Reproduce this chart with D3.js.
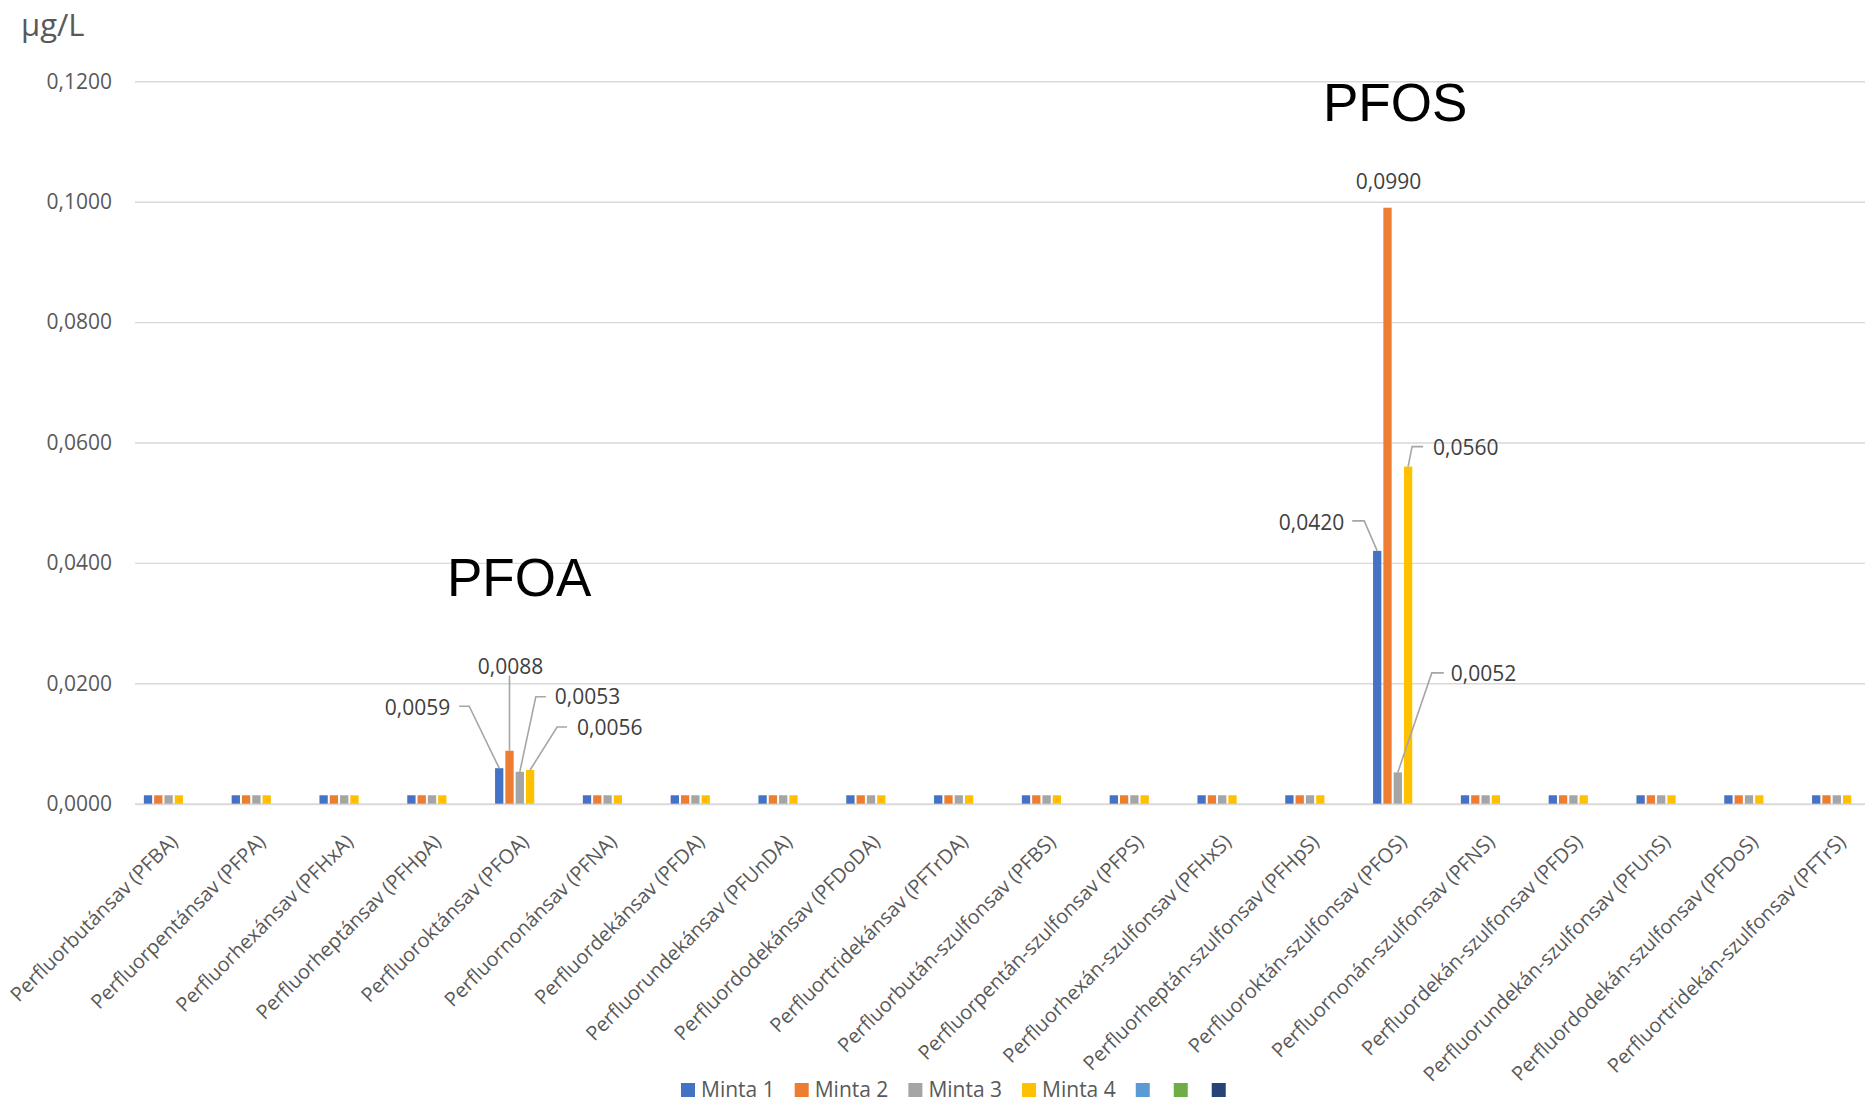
<!DOCTYPE html>
<html>
<head>
<meta charset="utf-8">
<script src="https://cdn.jsdelivr.net/npm/d3@7"></script>
<style>
  body { margin: 0; background: #fff; }
  svg { display: block; font-family: 'Open Sans', sans-serif; }
</style>
</head>
<body>
<svg id="chart" width="1865" height="1110"></svg>
<script>
// ---------- DATA ----------
const categories = [
  "Perfluorbutánsav (PFBA)",
  "Perfluorpentánsav (PFPA)",
  "Perfluorhexánsav (PFHxA)",
  "Perfluorheptánsav (PFHpA)",
  "Perfluoroktánsav (PFOA)",
  "Perfluornonánsav (PFNA)",
  "Perfluordekánsav (PFDA)",
  "Perfluorundekánsav (PFUnDA)",
  "Perfluordodekánsav (PFDoDA)",
  "Perfluortridekánsav (PFTrDA)",
  "Perfluorbután-szulfonsav (PFBS)",
  "Perfluorpentán-szulfonsav (PFPS)",
  "Perfluorhexán-szulfonsav (PFHxS)",
  "Perfluorheptán-szulfonsav (PFHpS)",
  "Perfluoroktán-szulfonsav (PFOS)",
  "Perfluornonán-szulfonsav (PFNS)",
  "Perfluordekán-szulfonsav (PFDS)",
  "Perfluorundekán-szulfonsav (PFUnS)",
  "Perfluordodekán-szulfonsav (PFDoS)",
  "Perfluortridekán-szulfonsav (PFTrS)"
];
const seriesNames = ["Minta 1", "Minta 2", "Minta 3", "Minta 4", "", "", ""];
const minta1 = [0.0014,0.0014,0.0014,0.0014,0.0059,0.0014,0.0014,0.0014,0.0014,0.0014,0.0014,0.0014,0.0014,0.0014,0.0420,0.0014,0.0014,0.0014,0.0014,0.0014];
const minta2 = [0.0014,0.0014,0.0014,0.0014,0.0088,0.0014,0.0014,0.0014,0.0014,0.0014,0.0014,0.0014,0.0014,0.0014,0.0990,0.0014,0.0014,0.0014,0.0014,0.0014];
const minta3 = [0.0014,0.0014,0.0014,0.0014,0.0053,0.0014,0.0014,0.0014,0.0014,0.0014,0.0014,0.0014,0.0014,0.0014,0.0052,0.0014,0.0014,0.0014,0.0014,0.0014];
const minta4 = [0.0014,0.0014,0.0014,0.0014,0.0056,0.0014,0.0014,0.0014,0.0014,0.0014,0.0014,0.0014,0.0014,0.0014,0.0560,0.0014,0.0014,0.0014,0.0014,0.0014];
const seriesValues = [minta1, minta2, minta3, minta4, [], [], []];
const yTicks = [0, 0.02, 0.04, 0.06, 0.08, 0.10, 0.12];
const labelledCategories = ["Perfluoroktánsav (PFOA)", "Perfluoroktán-szulfonsav (PFOS)"];
const annotations = ["PFOA", "PFOS"];

// ---------- STYLE / LAYOUT ----------
const colors = ["#4472C4", "#ED7D31", "#A5A5A5", "#FFC000", "#5B9BD5", "#70AD47", "#264478"];
// data label placement relative to bar top
const labelLayout = {
  "Perfluoroktánsav (PFOA)": [
    {dx: -49, dy: -61, anchor: "end", leader: [[-30, -62], [-40, -62]]},
    {dx: 1, dy: -84, anchor: "middle", leader: [[0, -75]]},
    {dx: 35, dy: -75, anchor: "start", leader: [[16, -75], [26, -75]]},
    {dx: 47, dy: -42, anchor: "start", leader: [[27, -43], [37, -43]]}
  ],
  "Perfluoroktán-szulfonsav (PFOS)": [
    {dx: -33, dy: -28, anchor: "end", leader: [[-13, -30], [-25, -30]]},
    {dx: 1, dy: -26, anchor: "middle", leader: null},
    {dx: 53, dy: -99, anchor: "start", leader: [[34, -99.5], [46, -99.5]]},
    {dx: 25, dy: -19, anchor: "start", leader: [[4, -20], [15, -20]]}
  ]
};
const annotationPos = [[447, 596], [1323, 121]];

const svg = d3.select("#chart");
const fmt = v => d3.format(".4f")(v).replace(".", ",");

const x0 = d3.scaleBand().domain(categories).range([135, 1891])
  .paddingInner(0.179).paddingOuter(0.0895);
const x1 = d3.scaleBand().domain(d3.range(seriesNames.length)).range([0, x0.bandwidth()]);
const y = d3.scaleLinear().domain([0, 0.12]).range([803.7, 81.3]);

// gridlines + y axis
const yAxis = d3.axisLeft(y).tickValues(yTicks).tickFormat(fmt).tickSize(-(1891 - 135)).tickPadding(23);
const gy = svg.append("g").attr("transform", "translate(135,0)").call(yAxis);
gy.select(".domain").remove();
gy.selectAll(".tick line").attr("stroke", "#d9d9d9").attr("stroke-width", 1.4);
gy.selectAll(".tick text").attr("fill", "#595959").attr("font-size", 21)
  .attr("font-family", "'Open Sans', sans-serif");
gy.selectAll(".tick").filter(d => d === 0).select("line").attr("stroke-width", 2);

// y unit
svg.append("text").attr("x", 21).attr("y", 36).attr("fill", "#595959")
  .attr("font-size", 31).text("μg/L");

// bars
const barW = x1.bandwidth() - 2;
seriesValues.forEach((vals, s) => {
  svg.append("g").selectAll("rect").data(vals.map((v, i) => ({cat: categories[i], v})))
    .join("rect")
    .attr("x", d => x0(d.cat) + x1(s) + 1)
    .attr("width", barW)
    .attr("y", d => y(d.v))
    .attr("height", d => y(0) - y(d.v))
    .attr("fill", colors[s]);
});

// category labels
svg.append("g").selectAll("text").data(categories).join("text")
  .attr("transform", d => `translate(${x0(d) + x0.bandwidth() / 2 - 5},838) rotate(-45)`)
  .attr("text-anchor", "end")
  .attr("dy", "0.35em")
  .attr("fill", "#595959")
  .attr("font-size", 20)
  .text(d => d);

// data labels with leader lines
labelledCategories.forEach(cat => {
  const ci = categories.indexOf(cat);
  labelLayout[cat].forEach((lay, s) => {
    const v = seriesValues[s][ci];
    const bx = x0(cat) + x1(s) + 1 + barW / 2;
    const by = y(v);
    if (lay.leader) {
      const pts = [[bx, by]].concat(lay.leader.map(p => [bx + p[0], by + p[1]]));
      svg.append("path").attr("d", d3.line()(pts)).attr("fill", "none")
        .attr("stroke", "#a6a6a6").attr("stroke-width", 1.6);
    }
    svg.append("text").attr("x", bx + lay.dx).attr("y", by + lay.dy)
      .attr("dy", "0.35em").attr("text-anchor", lay.anchor)
      .attr("fill", "#404040").attr("font-size", 21).text(fmt(v));
  });
});

// big annotations
annotations.forEach((t, i) => {
  svg.append("text").attr("x", annotationPos[i][0]).attr("y", annotationPos[i][1])
    .attr("font-family", "'Liberation Sans', Arial, sans-serif")
    .attr("font-size", 53).attr("fill", "#000").text(t);
});

// legend
const lg = svg.append("g");
let lx = 681;
const ly = 1090;
seriesNames.forEach((name, s) => {
  lg.append("rect").attr("x", lx).attr("y", ly - 7).attr("width", 14).attr("height", 14).attr("fill", colors[s]);
  if (name) {
    const t = lg.append("text").attr("x", lx + 20).attr("y", ly).attr("dy", "0.35em")
      .attr("fill", "#595959").attr("font-size", 21).text(name);
    lx += 20 + t.node().getComputedTextLength() + 20;
  } else {
    lx += 38;
  }
});
</script>
</body>
</html>
